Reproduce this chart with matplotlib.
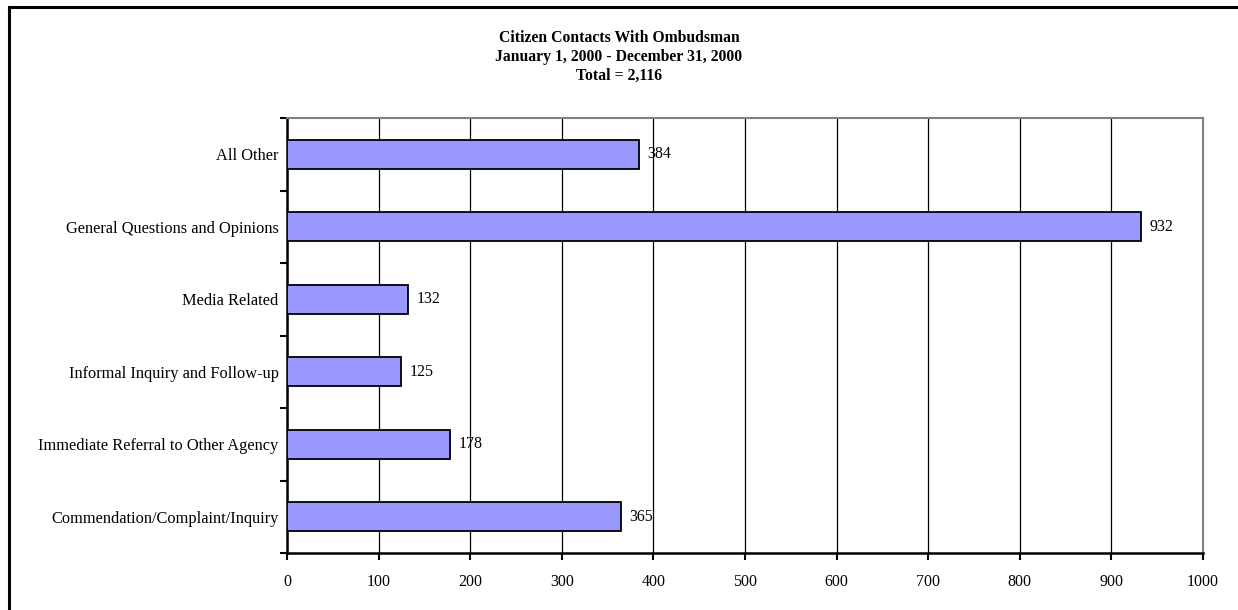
import matplotlib.pyplot as plt
from matplotlib.lines import Line2D

CATEGORIES = [
    "Commendation/Complaint/Inquiry",
    "Immediate Referral to Other Agency",
    "Informal Inquiry and Follow-up",
    "Media Related",
    "General Questions and Opinions",
    "All Other",
]
COUNTS = [365, 178, 125, 132, 932, 384]
X_TICKS = [0, 100, 200, 300, 400, 500, 600, 700, 800, 900, 1000]

TITLE_LINES = [
    "Citizen Contacts With Ombudsman",
    "January 1, 2000 - December 31, 2000",
    "Total = 2,116",
]

BAR_COLOR = "#9999FF"


def main():
    plt.rcParams["font.family"] = ["Liberation Serif", "DejaVu Serif"]

    fig = plt.figure(figsize=(12.38, 6.1), dpi=100)
    ax = fig.add_axes([0.2318, 0.0934, 0.7399, 0.7131])

    ypos = list(range(len(CATEGORIES)))
    ax.barh(ypos, COUNTS, height=0.4, color=BAR_COLOR, edgecolor="black",
            linewidth=1.3, zorder=3)

    for y, v in zip(ypos, COUNTS):
        ax.annotate(str(v), (v, y), xytext=(6, 0), textcoords="offset points",
                    va="center", ha="left", fontsize=11.5)

    ax.set_xlim(0, 1000)
    ax.set_ylim(-0.5, len(CATEGORIES) - 0.5)
    ax.set_xticks(X_TICKS)
    ax.set_xticklabels([str(t) for t in X_TICKS], fontsize=11.5)

    # category labels centred, ticks at category boundaries
    ax.set_yticks(ypos)
    ax.set_yticklabels(CATEGORIES, fontsize=11.8)
    ax.tick_params(axis="y", which="major", length=0, pad=6)
    ax.set_yticks([i - 0.5 for i in range(len(CATEGORIES) + 1)], minor=True)
    ax.tick_params(axis="y", which="minor", length=5, width=1.5, direction="out")
    ax.tick_params(axis="x", length=5, width=1.5, direction="out", pad=10)

    ax.grid(axis="x", color="black", linewidth=0.9, zorder=0)
    ax.set_axisbelow(True)

    ax.spines["left"].set_linewidth(1.8)
    ax.spines["bottom"].set_linewidth(1.8)
    for side in ("top", "right"):
        ax.spines[side].set_color("#808080")
        ax.spines[side].set_linewidth(1.5)

    for i, line in enumerate(TITLE_LINES):
        fig.text(0.5, 1 - (38 + 19 * i) / 610, line, ha="center", va="center",
                 fontsize=11.3, fontweight="bold")

    # outer frame (top and left edges only visible)
    fig.add_artist(Line2D([9 / 1238, 9 / 1238], [0, 1 - 7 / 610],
                          transform=fig.transFigure, color="black", linewidth=2.2))
    fig.add_artist(Line2D([9 / 1238, 1], [1 - 7 / 610, 1 - 7 / 610],
                          transform=fig.transFigure, color="black", linewidth=2.2))

    fig.savefig("out.png", dpi=100)


if __name__ == "__main__":
    main()
